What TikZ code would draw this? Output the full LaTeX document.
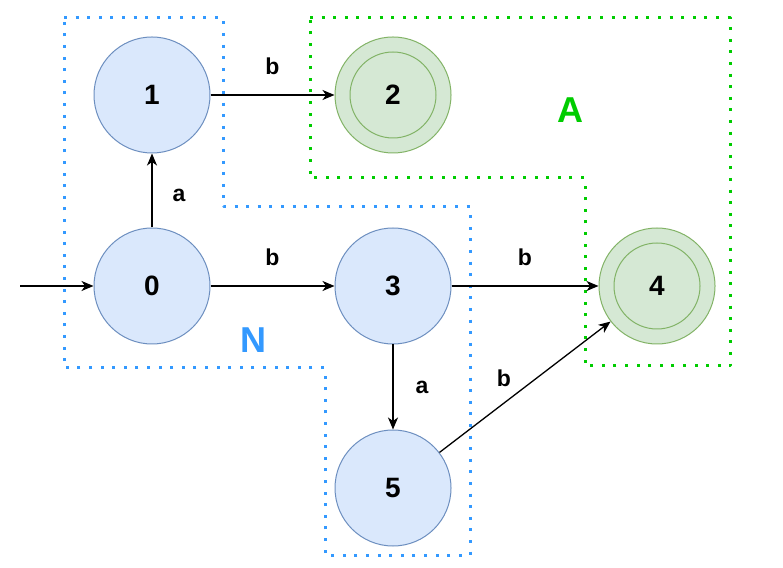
\documentclass[tikz,border=0pt]{standalone}
\usepackage{fontspec}
\setmainfont{Liberation Sans}
\usetikzlibrary{positioning,arrows.meta}

\definecolor{blueFill}{HTML}{DAE8FC}
\definecolor{blueLine}{HTML}{6C8EBF}
\definecolor{greenFill}{HTML}{D5E8D4}
\definecolor{greenLine}{HTML}{82B366}
\definecolor{regionN}{HTML}{3399FF}
\definecolor{regionA}{HTML}{00CC00}

\begin{document}
\begin{tikzpicture}[
		x=1pt, y=1pt,
		state/.style={circle, draw=blueLine, fill=blueFill, line width=1pt, minimum size=116pt, inner sep=0pt,
			font=\fontsize{28}{32}\selectfont\bfseries},
		accept/.style={state, draw=greenLine, fill=greenFill,
			path picture={\draw[greenLine, line width=1pt] (path picture bounding box.center) circle (43pt);}},
		edge/.style={draw=black, line width=1.3pt, -{Stealth[length=12pt, width=10pt, inset=3.5pt]}},
		lbl/.style={inner sep=0pt, font=\fontsize{23}{27}\selectfont\bfseries},
		region/.style={line width=3pt, dash pattern=on 3pt off 8.6pt, line join=round},
		tag/.style={font=\fontsize{36}{40}\selectfont\bfseries},
		]
		\useasboundingbox (0,0) rectangle (783,567);

		%Regions
		\draw[region, regionN]	(64,549) -- (223,549) -- (223,360) -- (470,360) -- (470,12)
			-- (325,12) -- (325,199) -- (64,199) -- cycle;
		\draw[region, regionA]	(310,549) -- (730,549) -- (730,201) -- (585,201) -- (585,389)
			-- (310,389) -- cycle;
		\node[tag, text=regionN]	(tag_n)	at (253,227)	{N};
		\node[tag, text=regionA]	(tag_a)	at (570,457)	{A};

		%States
		\node[state]	(s0)	at (152,281)	{0};
		\node[state]	(s1)	[above=74pt of s0]	{1};
		\node[state]	(s3)	[right=124pt of s0]	{3};
		\node[accept]	(s2)	[right=124pt of s1]	{2};
		\node[accept]	(s4)	[right=147pt of s3]	{4};
		\node[state]	(s5)	[below=85pt of s3]	{5};
		\coordinate	(start)	at (20,281);

		%Transitions
		\draw[edge]	(start) -- (s0.west);
		\draw[edge]	(s0) -- node[lbl, right=20pt, yshift=-5pt] {a} (s1);
		\draw[edge]	(s1) -- node[lbl, above=20pt] {b} (s2);
		\draw[edge]	(s0) -- node[lbl, above=20pt] {b} (s3);
		\draw[edge]	(s3) -- node[lbl, above=20pt] {b} (s4);
		\draw[edge]	(s3) -- node[lbl, right=22pt] {a} (s5);
		\draw[edge]	(s5) -- node[lbl, xshift=-21pt, yshift=9pt] {b} (s4);
	\end{tikzpicture}
\end{document}
